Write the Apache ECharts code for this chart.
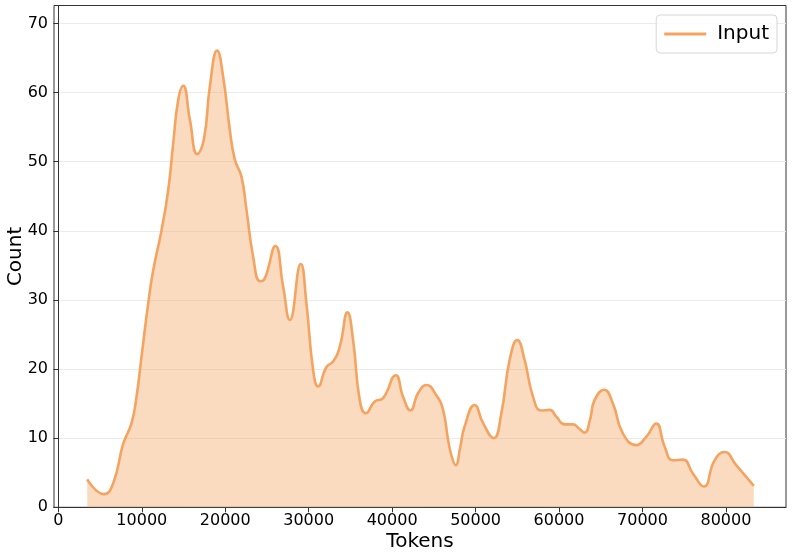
<!DOCTYPE html>
<html>
<head>
<meta charset="utf-8">
<script src="https://cdn.jsdelivr.net/npm/echarts@6/dist/echarts.min.js"></script>
<style>
  html, body { margin: 0; padding: 0; background: #fff; }
  #chart { width: 793px; height: 557px; }
</style>
</head>
<body>
<div id="chart"></div>
<script>
  // token positions (x) and KDE count values (y)
  const tokens = [
    3460, 5460, 6580, 7780, 8780, 9370, 9970, 10770, 11370, 12370, 13170, 13770, 14360, 14960,
    15760, 16640, 17440, 18160, 19030, 19750, 20550, 21150, 21950, 22550, 23340, 24180, 24740,
    26020, 26940, 27740, 29050, 29730, 30530, 31130, 32130, 32930, 33720, 34650, 35320, 36120,
    36840, 37920, 38920, 40430, 41310, 42190, 43110, 44110, 45300, 46100, 46700, 47150, 47620,
    48150, 48690, 49890, 50890, 52170, 53090, 54080, 55000, 55880, 56880, 57880, 58870, 59680,
    60670, 61670, 62400, 63070, 63700, 64260, 65420, 66460, 67650, 69260, 70450, 71650, 72650,
    73640, 74840, 76040, 77350, 78640, 79830, 81230, 83340
  ]
  const counts = [
    4.05, 1.9, 3.5, 9.2, 12.2, 16.0, 21.8, 29.5, 34.3, 40.1, 45.9, 52.7, 58.9, 61.0,
    56.1, 51.1, 53.2, 60.9, 66.1, 62.3, 54.6, 50.3, 47.8, 43.0, 36.3, 32.7, 33.1,
    37.8, 31.9, 27.1, 35.2, 29.5, 19.9, 17.5, 20.3, 21.1, 23.2, 28.2, 24.2, 15.5,
    13.6, 15.3, 15.8, 19.1, 16.0, 14.0, 16.5, 17.7, 16.2, 14.1, 9.8, 7.3, 6.1,
    8.6, 11.7, 14.8, 12.2, 10.0, 13.6, 21.3, 24.2, 21.3, 16.0, 14.0, 14.1, 13.1,
    12.0, 12.0, 11.4, 10.8, 12.6, 15.5, 17.0, 15.0, 10.7, 9.0, 10.2, 12.1, 8.8,
    6.8, 6.9, 4.9, 3.0, 6.8, 8.0, 6.1, 3.1
  ]
  const xTicks = [0, 10000, 20000, 30000, 40000, 50000, 60000, 70000, 80000]
  const yTicks = [0, 10, 20, 30, 40, 50, 60, 70]

  const lineColor = '#F4A460'
  const font = 'DejaVu Sans'

  const chart = echarts.init(document.getElementById('chart'))

  const option = {
    animation: false,
    textStyle: { fontFamily: font },
    grid: {
      left: 54, right: 7, top: 5.5, bottom: 49.7,
      outerBoundsMode: 'none',
      show: true, borderColor: '#333', borderWidth: 1
    },
    legend: {
      right: 16, top: 15,
      data: [{ name: 'Input', icon: 'rect' }],
      itemWidth: 42, itemHeight: 3, itemGap: 10,
      padding: [9, 8, 9, 8],
      borderColor: '#d6d6d6', borderWidth: 1, borderRadius: 4,
      backgroundColor: 'rgba(255,255,255,0.8)',
      textStyle: { fontSize: 20, color: '#000', fontFamily: font, padding: [0, 0, 0, 6] }
    },
    xAxis: {
      type: 'value',
      min: -520, max: 87200,
      name: 'Tokens', nameLocation: 'middle', nameGap: 24, nameMoveOverlap: false,
      nameTextStyle: { fontSize: 20, color: '#000', fontFamily: font },
      axisLine: { show: true, lineStyle: { color: '#333', width: 1 } },
      axisTick: { show: true, length: 5, lineStyle: { color: '#333' }, customValues: xTicks },
      axisLabel: { fontSize: 16, color: '#000', margin: 6, customValues: xTicks, formatter: v => String(v) },
      splitLine: { show: false }
    },
    yAxis: {
      type: 'value',
      min: 0, max: 72.6,
      name: 'Count', nameLocation: 'middle', nameGap: 28, nameMoveOverlap: false,
      nameTextStyle: { fontSize: 20, color: '#000', fontFamily: font },
      axisLine: { show: true, lineStyle: { color: '#333', width: 1 } },
      axisTick: { show: true, length: 5, lineStyle: { color: '#333' }, customValues: yTicks },
      axisLabel: { fontSize: 16, color: '#000', margin: 6, customValues: yTicks, formatter: v => String(v) },
      splitLine: { show: true, lineStyle: { color: '#ebebeb', width: 1 } }
    },
    series: [
      {
        name: 'Input',
        type: 'line',
        smooth: 0.5,
        symbol: 'none',
        data: tokens.map((t, i) => [t, counts[i]]),
        lineStyle: { color: lineColor, width: 2.6 },
        itemStyle: { color: lineColor },
        areaStyle: { color: 'rgba(244,164,96,0.4)', opacity: 1 }
      }
    ]
  }

  chart.setOption(option)
</script>
</body>
</html>
